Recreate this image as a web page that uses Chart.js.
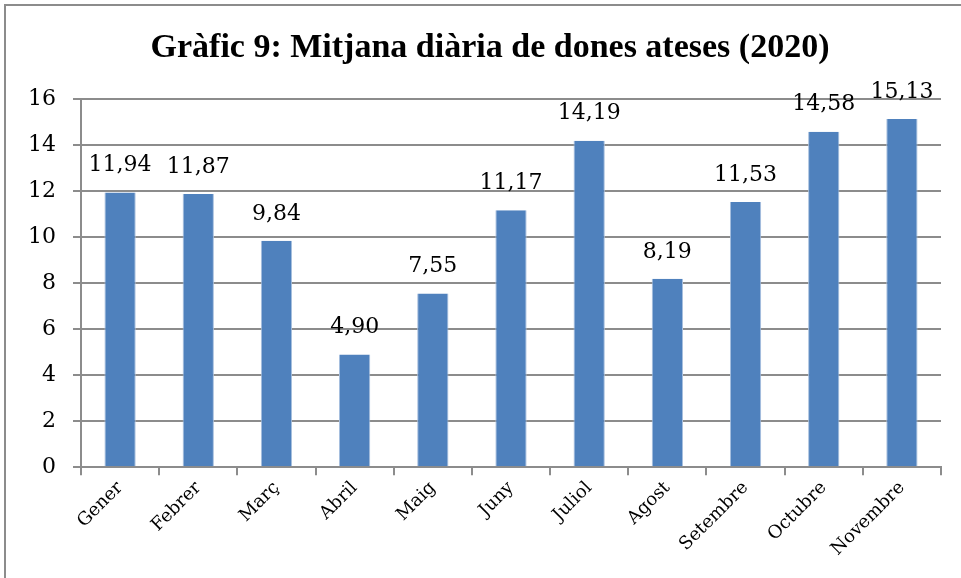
<!DOCTYPE html>
<html>
<head>
<meta charset="utf-8">
<script src="https://cdn.jsdelivr.net/npm/chart.js@4"></script>
<style>
  html, body { margin: 0; padding: 0; background: #fff; }
  #frame {
    position: absolute; left: 4px; top: 4px; width: 1000px; height: 1000px;
    border-left: 2px solid #8c8c8c; border-top: 2px solid #8c8c8c;
  }
  #wrap { position: absolute; left: 0; top: 0; width: 961px; height: 578px; }
  #title {
    position: absolute; left: 0; top: 26px; width: 980px; margin: 0;
    text-align: center; font: bold 34px "Liberation Serif", serif; line-height: 40px; color: #000;
  }
</style>
</head>
<body>
<div id="frame"></div>
<div id="wrap"><canvas id="chart"></canvas></div>
<h1 id="title">Gràfic 9: Mitjana diària de dones ateses (2020)</h1>
<script>
// Mitjana diària de dones ateses, 2020
const months = ['Gener', 'Febrer', 'Març', 'Abril', 'Maig', 'Juny', 'Juliol', 'Agost', 'Setembre', 'Octubre', 'Novembre'];
const dailyAverage = [11.94, 11.87, 9.84, 4.90, 7.55, 11.17, 14.19, 8.19, 11.53, 14.58, 15.13];
const yTicks = [0, 2, 4, 6, 8, 10, 12, 14, 16];

const SERIF = '"DejaVu Serif", "Liberation Serif", serif';
const GRID = '#8c8c8c';

// value labels above each bar, decimal comma
const barLabels = {
  id: 'barLabels',
  afterDatasetsDraw(chart) {
    const ctx = chart.ctx;
    const meta = chart.getDatasetMeta(0);
    ctx.save();
    ctx.font = '22px ' + SERIF;
    ctx.fillStyle = '#000';
    ctx.textAlign = 'center';
    ctx.textBaseline = 'middle';
    meta.data.forEach((bar, i) => {
      ctx.fillText(dailyAverage[i].toFixed(2).replace('.', ','), bar.x, bar.y - 27);
    });
    ctx.restore();
  }
};

new Chart(document.getElementById('chart'), {
  type: 'bar',
  data: {
    labels: months,
    datasets: [{
      data: dailyAverage,
      backgroundColor: '#4f81bd',
      borderColor: '#a7bfde',
      borderWidth: { left: 1, right: 1, top: 0, bottom: 0 },
      barPercentage: 0.4,
      categoryPercentage: 1.0,
    }],
  },
  options: {
    responsive: true,
    maintainAspectRatio: false,
    animation: false,
    layout: { padding: { left: 11, right: 20, top: 99, bottom: 16 } },
    plugins: {
      legend: { display: false },
      tooltip: { enabled: false },
      title: { display: false },
    },
    scales: {
      x: {
        offset: true,
        grid: { display: true, drawOnChartArea: false, drawTicks: true, tickLength: 8, offset: true, color: GRID, lineWidth: 2 },
        border: { color: GRID, width: 2 },
        ticks: {
          color: '#000',
          font: { family: SERIF, size: 18 },
          minRotation: 45,
          maxRotation: 45,
          padding: 2,
        },
      },
      y: {
        min: 0,
        max: 16,
        afterBuildTicks: (axis) => { axis.ticks = yTicks.map((v) => ({ value: v })); },
        grid: { color: GRID, lineWidth: 2, tickLength: 8 },
        border: { color: GRID, width: 2 },
        ticks: {
          color: '#000',
          font: { family: SERIF, size: 22 },
          padding: 17,
        },
      },
    },
  },
  plugins: [barLabels],
});
</script>
</body>
</html>
